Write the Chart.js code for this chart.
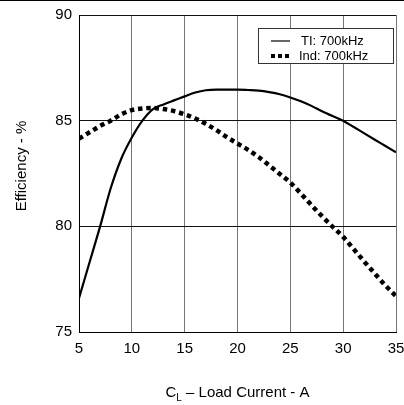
<!DOCTYPE html>
<html lang="en">
<head>
  <meta charset="UTF-8">
  <title>Efficiency vs Load Current</title>
  <script src="https://cdn.jsdelivr.net/npm/chart.js"></script>
  <style>
    body {
      margin: 0;
      background: #fff;
    }
    .chart-container {
      position: relative;
      width: 404px;
      height: 405px;
    }
    .top-rule {
      position: absolute;
      left: 0;
      top: 0;
      width: 404px;
      height: 1px;
      background: #000;
    }
  </style>
</head>
<body>
  <div class="chart-container">
    <canvas id="effChart"></canvas>
    <div class="top-rule"></div>
  </div>

  <script>
    const FONT = "'Liberation Sans', Arial, sans-serif";

    // load current in A
    const current = [5, 6, 7, 8, 9, 10, 11, 12, 13, 14, 15, 16, 17, 18, 19, 20,
                     21, 22, 23, 24, 25, 26, 27, 28, 29, 30, 31, 32, 33, 34, 35];
    const tiEff = [76.6, 78.3, 80.0, 81.8, 83.2, 84.2, 85.0, 85.55, 85.77, 85.96, 86.15, 86.33,
                   86.44, 86.47, 86.47, 86.47, 86.45, 86.42, 86.35, 86.25, 86.1, 85.92,
                   85.7, 85.45, 85.22, 85.0, 84.7, 84.4, 84.1, 83.8, 83.5];
    const indEff = [84.15, 84.45, 84.75, 85.0, 85.3, 85.5, 85.58, 85.6, 85.55, 85.45, 85.3,
                    85.1, 84.85, 84.55, 84.22, 83.92, 83.62, 83.28, 82.88, 82.48, 82.07, 81.55,
                    81.0, 80.48, 79.98, 79.5, 78.92, 78.33, 77.76, 77.2, 76.7];
    const seriesNames = ['TI: 700kHz', 'Ind: 700kHz'];
    const xTicks = [5, 10, 15, 20, 25, 30, 35];
    const yTicks = [75, 80, 85, 90];

    const toPoints = ys => ys.map((y, i) => ({ x: current[i], y: y }));

    // titles (x title needs a subscript) and the boxed legend
    const decorations = {
      id: 'decorations',
      afterDraw(chart) {
        const ctx = chart.ctx;
        const area = chart.chartArea;
        ctx.save();
        ctx.fillStyle = '#000';

        // y title
        ctx.font = '15px ' + FONT;
        ctx.textAlign = 'center';
        ctx.textBaseline = 'middle';
        ctx.save();
        ctx.translate(22, 166);
        ctx.rotate(-Math.PI / 2);
        ctx.fillText('Efficiency - %', 0, 0);
        ctx.restore();

        // x title: C with subscript L
        const main = 'C';
        const sub = 'L';
        const rest = ' \u2013 Load Current - A';
        ctx.font = '15px ' + FONT;
        const wMain = ctx.measureText(main).width;
        const wRest = ctx.measureText(rest).width;
        ctx.font = '10px ' + FONT;
        const wSub = ctx.measureText(sub).width;
        let x = (area.left + area.right) / 2 - (wMain + wSub + wRest) / 2;
        const y = 393;
        ctx.textAlign = 'left';
        ctx.textBaseline = 'middle';
        ctx.font = '15px ' + FONT;
        ctx.fillText(main, x, y);
        x += wMain;
        ctx.font = '10px ' + FONT;
        ctx.fillText(sub, x, y + 5);
        x += wSub;
        ctx.font = '15px ' + FONT;
        ctx.fillText(rest, x, y);

        // legend box
        ctx.fillStyle = '#fff';
        ctx.fillRect(258.5, 28.5, 135, 35);
        ctx.strokeStyle = '#333';
        ctx.lineWidth = 1;
        ctx.strokeRect(258.5, 28.5, 135, 35);

        const rows = [41, 56];
        chart.data.datasets.forEach((ds, i) => {
          ctx.strokeStyle = ds.borderColor;
          ctx.lineWidth = i === 0 ? 1.2 : 4;
          ctx.setLineDash(i === 0 ? [] : [4, 3]);
          ctx.beginPath();
          ctx.moveTo(271, rows[i]);
          ctx.lineTo(i === 0 ? 290 : 289.5, rows[i]);
          ctx.stroke();
          ctx.setLineDash([]);
          ctx.fillStyle = '#000';
          ctx.font = '13px ' + FONT;
          ctx.textAlign = 'left';
          ctx.fillText(ds.label, i === 0 ? 301 : 299, rows[i]);
        });
        ctx.restore();
      }
    };

    new Chart(document.getElementById('effChart'), {
      type: 'line',
      data: {
        datasets: [
          {
            label: seriesNames[0],
            data: toPoints(tiEff),
            borderColor: '#000',
            borderWidth: 2.2,
            pointRadius: 0,
            cubicInterpolationMode: 'monotone',
            fill: false
          },
          {
            label: seriesNames[1],
            data: toPoints(indEff),
            borderColor: '#000',
            borderWidth: 4.5,
            borderDash: [4.5, 3.8],
            borderCapStyle: 'butt',
            pointRadius: 0,
            cubicInterpolationMode: 'monotone',
            fill: false
          }
        ]
      },
      options: {
        responsive: true,
        maintainAspectRatio: false,
        animation: false,
        layout: { padding: { left: 0, right: 8, top: 15, bottom: 0 } },
        plugins: {
          legend: { display: false },
          tooltip: { enabled: false }
        },
        scales: {
          x: {
            type: 'linear',
            min: 5,
            max: 35,
            afterBuildTicks: scale => { scale.ticks = xTicks.map(v => ({ value: v })); },
            afterFit: scale => {
              scale.height = 73;
              scale.paddingLeft = 0;
              scale.paddingRight = 0;
            },
            grid: { color: '#777', lineWidth: 1, drawTicks: false },
            border: { color: '#000', width: 1 },
            ticks: {
              color: '#000',
              padding: 8,
              maxRotation: 0,
              font: { family: FONT, size: 15 }
            }
          },
          y: {
            min: 75,
            max: 90,
            afterBuildTicks: scale => { scale.ticks = yTicks.map(v => ({ value: v })); },
            afterFit: scale => {
              scale.width = 79;
              scale.paddingTop = 0;
              scale.paddingBottom = 0;
            },
            grid: { color: '#111', lineWidth: 1, drawTicks: false },
            border: { color: '#000', width: 1 },
            ticks: {
              color: '#000',
              padding: 7,
              font: { family: FONT, size: 15 }
            }
          }
        }
      },
      plugins: [decorations]
    });
  </script>
</body>
</html>
